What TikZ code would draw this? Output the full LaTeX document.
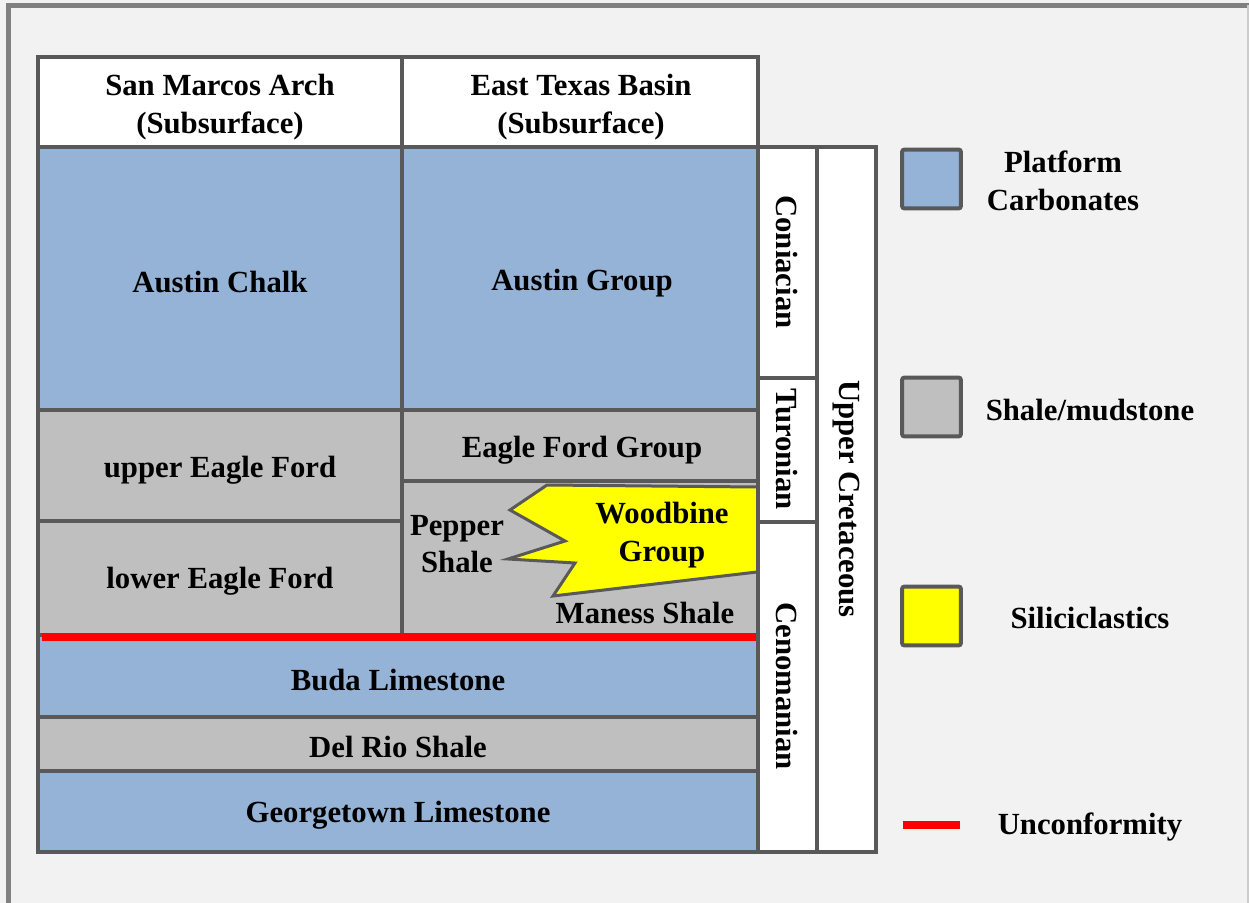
\documentclass[tikz,border=0pt]{standalone}
\usepackage{fontspec}
\setmainfont{Liberation Serif}
\usetikzlibrary{positioning}
\definecolor{Frame}{HTML}{808080}
\definecolor{Edge}{HTML}{595959}
\definecolor{Paper}{HTML}{F2F2F2}
\definecolor{Carb}{HTML}{95B3D7}
\definecolor{Mud}{HTML}{BFBFBF}
\definecolor{Clast}{HTML}{FFFF00}
\definecolor{Gap}{HTML}{FF0000}

\begin{document}
\begin{tikzpicture}[
        x=0.02cm, y=-0.02cm,
        font=\fontsize{17.5}{21.5}\selectfont\bfseries,
        cell/.style={draw=Edge, line width=0.08cm},
        lbl/.style={align=center, inner sep=0pt},
        tag/.style={lbl, rotate=-90},
        key/.style={draw=Edge, line width=0.08cm, rounded corners=1.5pt, minimum size=1.18cm, inner sep=0pt}
      ]
        \fill[Paper] (0,0) rectangle (1249,903);
        \useasboundingbox (0,0) rectangle (1249,903);
        \draw[Frame, line width=0.1cm] (8.5,903) -- (8.5,5) -- (1249,5);
        \draw[Frame!40, line width=0.04cm] (1247.5,5) -- (1247.5,903);

        % column heads
        \draw[cell, fill=white] (38,57) rectangle (402,147);
        \draw[cell, fill=white] (402,57) rectangle (758,147);

        % Austin
        \draw[cell, fill=Carb] (38,147) rectangle (402,410);
        \draw[cell, fill=Carb] (402,147) rectangle (758,410);

        % Eagle Ford
        \draw[cell, fill=Mud] (38,410) rectangle (402,521);
        \draw[cell, fill=Mud] (38,521) rectangle (402,635);
        \draw[cell, fill=Mud] (402,410) rectangle (758,481);
        \fill[Mud] (402,481) rectangle (758,635);

        % Woodbine tongue
        \fill[Clast] (757,487) -- (547,485) -- (510,510) -- (565,541) -- (508,559)
          -- (575,563) -- (553,596) -- (757,572) -- cycle;
        \draw[Edge, line width=0.06cm] (757,487) -- (547,485) -- (510,510) -- (565,541) -- (508,559)
          -- (575,563) -- (553,596) -- (757,572);
        \draw[cell] (402,481) rectangle (758,635);

        % older units
        \draw[cell, fill=Carb] (38,635) rectangle (758,717);
        \draw[cell, fill=Mud] (38,717) rectangle (758,771);
        \draw[cell, fill=Carb] (38,771) rectangle (758,852);
        \draw[Gap, line width=0.16cm] (42,637) -- (760,637);

        % stages
        \draw[cell, fill=white] (758,147) rectangle (817,378);
        \draw[cell, fill=white] (758,378) rectangle (817,522);
        \draw[cell, fill=white] (758,522) rectangle (817,852);
        \draw[cell, fill=white] (817,147) rectangle (876,852);

        \node[lbl] (sanmarcos) at (220,107) {San Marcos Arch\\(Subsurface)};
        \node[lbl] (easttexas) at (581,107) {East Texas Basin\\(Subsurface)};
        \node[lbl] (austinchalk) at (220,282) {Austin Chalk};
        \node[lbl] (austingroup) at (582,283) {Austin Group};
        \node[lbl] (uppereagle) at (220,470) {upper Eagle Ford};
        \node[lbl] (lowereagle) at (220,581) {lower Eagle Ford};
        \node[lbl] (eaglegroup) at (582,450) {Eagle Ford Group};
        \node[lbl] (pepper) at (457,544) {Pepper\\Shale};
        \node[lbl] (woodbine) at (662,535) {Woodbine\\Group};
        \node[lbl] (maness) at (645,613) {Maness Shale};
        \node[lbl] (buda) at (398,680) {Buda Limestone};
        \node[lbl] (delrio) at (398,747) {Del Rio Shale};
        \node[lbl] (georgetown) at (398,815) {Georgetown Limestone};

        \node[tag] (coniacian) at (787,262) {Coniacian};
        \node[tag] (turonian) at (787,449) {Turonian};
        \node[tag] (cenomanian) at (787,686) {Cenomanian};
        \node[tag] (uppercret) at (846,499) {Upper Cretaceous};

        % legend
        \node[key, fill=Carb] (keycarb) at (931.5,179) {};
        \node[key, fill=Mud] (keymud) at (931.5,407) {};
        \node[key, fill=Clast] (keyclast) at (931.5,616) {};
        \coordinate (gapstart) at (903,825);
        \coordinate (gapend) at (960,825);
        \draw[Gap, line width=0.16cm] (gapstart) -- (gapend);

        \node[lbl] (carbtext) at (1063,181) {Platform\\Carbonates};
        \node[lbl] (mudtext) at (1090,410) {Shale/mudstone};
        \node[lbl] (clasttext) at (1090,618) {Siliciclastics};
        \node[lbl] (gaptext) at (1090,827) {Unconformity};
      \end{tikzpicture}
\end{document}
